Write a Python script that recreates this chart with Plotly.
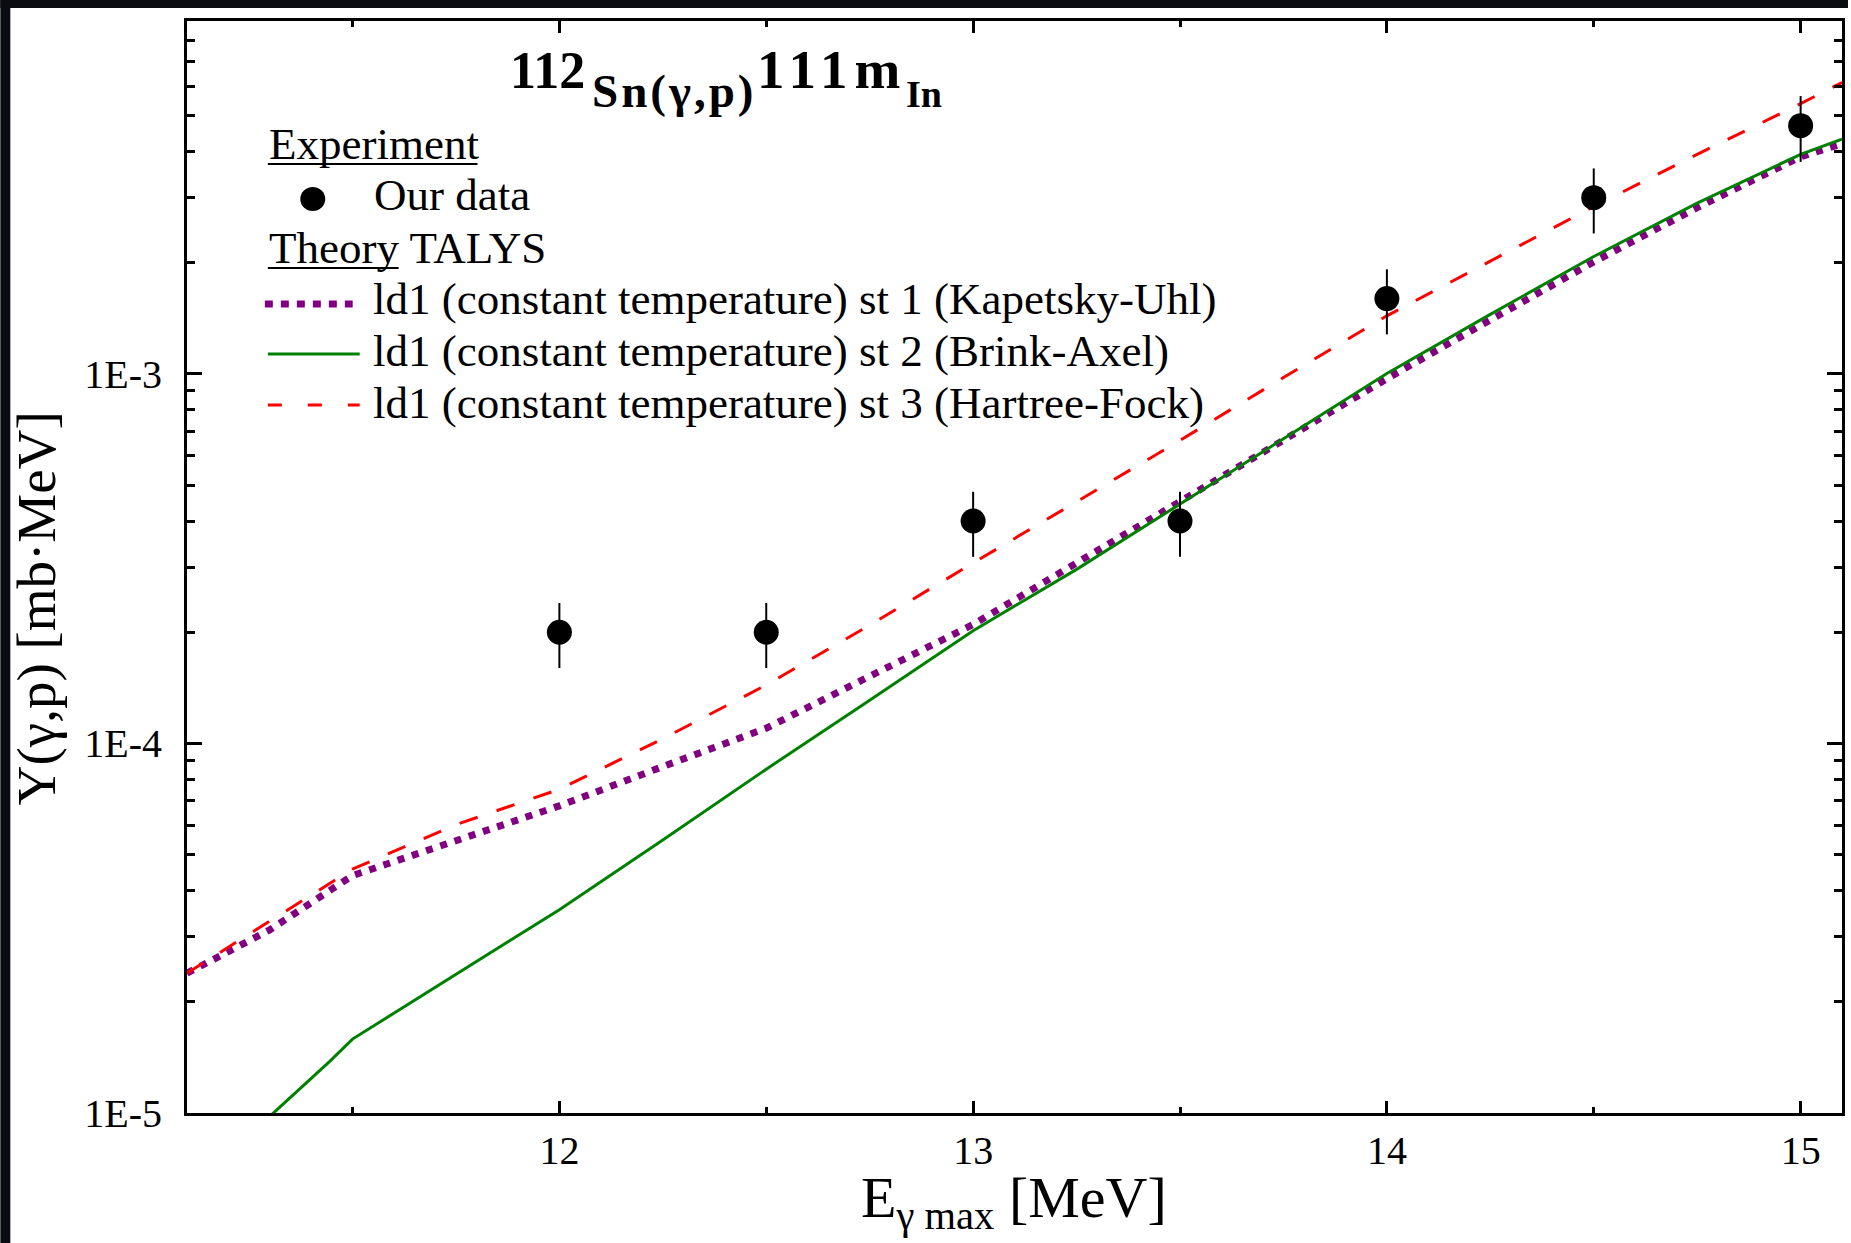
import plotly.graph_objects as go

# ---------------- data ----------------
exp_E = [12.0, 12.5, 13.0, 13.5, 14.0, 14.5, 15.0]
exp_Y = [2.0e-4, 2.0e-4, 4.0e-4, 4.0e-4, 1.6e-3, 3.0e-3, 4.7e-3]
exp_err = [0.4e-4, 0.4e-4, 0.8e-4, 0.8e-4, 0.32e-3, 0.6e-3, 0.95e-3]

st13_E = [11.1, 11.3, 11.5, 11.75, 12.0, 12.25, 12.5, 12.75, 13.0, 13.25,
          13.5, 13.75, 14.0, 14.25, 14.5, 14.75, 15.0, 15.1]
st1_Y = [2.39e-5, 3.13e-5, 4.39e-5, 5.45e-5, 6.78e-5, 8.66e-5, 1.10e-4, 1.52e-4,
         2.10e-4, 3.08e-4, 4.52e-4, 6.67e-4, 9.71e-4, 1.40e-3, 2.01e-3, 2.82e-3,
         3.87e-3, 4.20e-3]
st3_Y = [2.39e-5, 3.30e-5, 4.57e-5, 6.03e-5, 7.52e-5, 1.03e-4, 1.44e-4, 2.09e-4,
         3.08e-4, 4.51e-4, 6.61e-4, 9.78e-4, 1.437e-3, 2.02e-3, 2.84e-3, 3.93e-3,
         5.39e-3, 6.15e-3]
st2_E = [11.25, 11.445, 11.5, 12.0, 12.25, 12.5, 12.75, 13.0, 13.25, 13.5,
         13.75, 14.0, 14.25, 14.5, 14.75, 15.0, 15.1]
st2_Y = [8.7e-6, 1.38e-5, 1.585e-5, 3.55e-5, 5.48e-5, 8.52e-5, 1.31e-4, 2.02e-4,
         2.96e-4, 4.45e-4, 6.67e-4, 1.003e-3, 1.45e-3, 2.08e-3, 2.90e-3, 3.93e-3,
         4.32e-3]

x_tick_vals = [12, 13, 14, 15]
y_tick_vals = [1e-5, 1e-4, 1e-3]
y_tick_text = ["1E-5", "1E-4", "1E-3"]

title_parts = ["112", "Sn(γ,p)", "111m", "In"]
x_title = "E<sub>γ max</sub> [MeV]"
y_title = "Y(γ,p) [mb·MeV]"
legend_head_exp = "Experiment"
legend_exp = "Our data"
legend_head_th = "Theory TALYS"
legend_th = ["ld1 (constant temperature) st 1 (Kapetsky-Uhl)",
             "ld1 (constant temperature) st 2 (Brink-Axel)",
             "ld1 (constant temperature) st 3 (Hartree-Fock)"]

# ---------------- geometry ----------------
W, H = 1851, 1243
L, R, T, B = 187, 1845, 21, 1113
FONT = "Liberation Serif"
PURPLE, GREEN, RED = "#800080", "#008000", "#ff0000"


def px(x):
    return (x - L) / (R - L)


def py(y):
    return (B - y) / (B - T)


fig = go.Figure()

fig.add_trace(go.Scatter(x=st13_E, y=st1_Y, mode="lines", name=legend_th[0],
                         line=dict(color=PURPLE, width=7, dash="7px,8px")))
fig.add_trace(go.Scatter(x=st2_E, y=st2_Y, mode="lines", name=legend_th[1],
                         line=dict(color=GREEN, width=3)))
fig.add_trace(go.Scatter(x=st13_E, y=st3_Y, mode="lines", name=legend_th[2],
                         line=dict(color=RED, width=3, dash="19px,20px")))
fig.add_trace(go.Scatter(x=exp_E, y=exp_Y, mode="markers", name=legend_exp,
                         marker=dict(color="black", size=25, symbol="circle"),
                         error_y=dict(type="data", array=exp_err, visible=True,
                                      color="black", thickness=2, width=0)))

shapes = []
# dark border strips of the original screenshot
shapes.append(dict(type="rect", xref="paper", yref="paper", x0=px(0), x1=px(W),
                   y0=py(8), y1=py(0), fillcolor="#0b0b12", line=dict(width=0),
                   layer="above"))
shapes.append(dict(type="rect", xref="paper", yref="paper", x0=px(0), x1=px(10),
                   y0=py(H), y1=py(0), fillcolor="#0b0b12", line=dict(width=0),
                   layer="above"))
# legend samples
shapes.append(dict(type="circle", xref="paper", yref="paper",
                   x0=px(300.5), x1=px(325.5), y0=py(211), y1=py(187),
                   fillcolor="black", line=dict(width=0)))
shapes.append(dict(type="line", xref="paper", yref="paper", x0=px(265), x1=px(353),
                   y0=py(304), y1=py(304), line=dict(color=PURPLE, width=7, dash="8px,8px")))
shapes.append(dict(type="line", xref="paper", yref="paper", x0=px(268), x1=px(360),
                   y0=py(354), y1=py(354), line=dict(color=GREEN, width=3)))
shapes.append(dict(type="line", xref="paper", yref="paper", x0=px(268), x1=px(360),
                   y0=py(405), y1=py(405), line=dict(color=RED, width=3, dash="14px,26px")))
# underlines of the legend headings
shapes.append(dict(type="line", xref="paper", yref="paper", x0=px(268), x1=px(478),
                   y0=py(164), y1=py(164), line=dict(color="black", width=2)))
shapes.append(dict(type="line", xref="paper", yref="paper", x0=px(268), x1=px(399),
                   y0=py(268), y1=py(268), line=dict(color="black", width=2)))

annotations = []


def add_text(text, x, baseline, size, xanchor="left", bold=False):
    annotations.append(dict(
        text=text,
        xref="paper", yref="paper", x=px(x), y=py(baseline - 0.891 * size),
        xanchor=xanchor, yanchor="top", showarrow=False, borderpad=0,
        font=dict(family=FONT, size=size, color="black",
                  weight="bold" if bold else "normal")))


LS = 45
add_text(legend_head_exp, 268, 158, LS)
add_text(legend_exp, 373, 209, LS)
add_text(legend_head_th, 268, 262, LS)
for txt, bl in zip(legend_th, [313, 365, 417]):
    add_text(txt, 372, bl, LS)

# chart title: 112 Sn(γ,p) 111m In, with the element symbols lowered
title_layout = [  # (left x, baseline, size, letter spacing)
    (510, 87, 52, 0),
    (592, 106, 47, 3),
    (757, 87, 55, 7),
    (906, 106, 38, 0),
]
for part, (tx, tb, tsz, tls) in zip(title_parts, title_layout):
    add_text('<span style="letter-spacing:%dpx">%s</span>' % (tls, part) if tls else part,
             tx, tb, tsz, bold=True)

# x axis title
add_text(x_title, 1015, 1216, 58, xanchor="center")
# y axis title (rotated)
ys = 55
annotations.append(dict(text=y_title, xref="paper", yref="paper",
                        x=px(54.5 - 0.3375 * ys), y=py(608), xanchor="center",
                        yanchor="middle", textangle=-90, showarrow=False, borderpad=0,
                        font=dict(family=FONT, size=ys, color="black")))

minor_y = [k * 10.0 ** e for e in (-5, -4, -3) for k in range(2, 10)]

fig.update_layout(
    width=W, height=H,
    margin=dict(l=L, r=W - R, t=T, b=H - B, pad=0),
    paper_bgcolor="white", plot_bgcolor="white",
    showlegend=False,
    font=dict(family=FONT, color="black"),
    shapes=shapes, annotations=annotations,
    xaxis=dict(range=[11.1, 15.1], tickmode="array", tickvals=x_tick_vals,
               ticks="inside", ticklen=12, tickwidth=2.5, tickcolor="black",
               showline=True, linecolor="black", linewidth=3, mirror="ticks",
               showgrid=False, zeroline=False,
               tickfont=dict(family=FONT, size=40, color="black"),
               ticklabelstandoff=0,
               minor=dict(tickmode="array", tickvals=[11.5, 12.5, 13.5, 14.5],
                          ticks="inside", ticklen=6, tickwidth=2.5, tickcolor="black",
                          showgrid=False)),
    yaxis=dict(type="log", range=[-5, -2.0447], tickmode="array",
               tickvals=y_tick_vals, ticktext=y_tick_text,
               ticks="inside", ticklen=15, tickwidth=2.5, tickcolor="black",
               showline=True, linecolor="black", linewidth=3, mirror="ticks",
               showgrid=False, zeroline=False,
               tickfont=dict(family=FONT, size=40, color="black"),
               ticklabelstandoff=14,
               minor=dict(tickmode="array", tickvals=minor_y, ticks="inside",
                          ticklen=8, tickwidth=2.5, tickcolor="black", showgrid=False)),
)

fig.write_html("out.html")
